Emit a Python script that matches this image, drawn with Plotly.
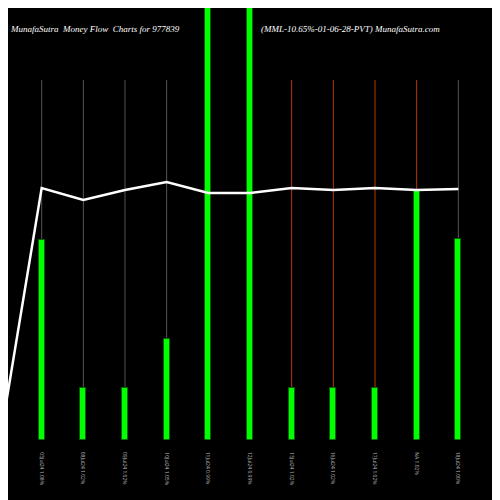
import plotly.graph_objects as go

# chart values
positions = [1, 2, 3, 4, 5, 6, 7, 8, 9, 10, 11]
bar_height = [200, 52, 52, 101, 500, 500, 52, 52, 52, 250, 201]
line_x = [0, 1, 2, 3, 4, 5, 6, 7, 8, 9, 10, 11]
line_y = [0, 252, 240, 250, 258, 247, 247, 252, 250, 252, 250, 251]
grid_colors = ["#555555", "#555555", "#555555", "#555555", "#555555", "#555555",
               "#b33a00", "#b33a00", "#b33a00", "#b33a00", "#555555"]
date_labels = ["05Jul24 1.08%", "08Jul24 1.02%", "09Jul24 1.02%",
               "10Jul24 1.05%", "11Jul24 0.99%", "12Jul24 0.99%",
               "15Jul24 1.02%", "16Jul24 1.02%", "17Jul24 1.02%",
               "NA 1.02%", "18Jul24 1.00%"]

fig = go.Figure()

for x, c in zip(positions, grid_colors):
    fig.add_shape(type="line", x0=x, x1=x, y0=0, y1=360,
                  line=dict(color=c, width=1), layer="below")

fig.add_trace(go.Bar(x=positions, y=bar_height, width=0.14,
                     marker=dict(color="#00ff00", line=dict(color="#006600", width=1))))
fig.add_trace(go.Scatter(x=line_x, y=line_y, mode="lines", cliponaxis=False,
                         line=dict(color="white", width=2.5)))

for x, t in zip(positions, date_labels):
    fig.add_annotation(x=x, y=0, yref="y", text=t, showarrow=False, textangle=90,
                       yanchor="top", yshift=-10, font=dict(size=5, color="#bbbbbb"))

fig.add_annotation(x=0.0, y=1.0, xref="paper", yref="paper", yshift=-14,
                   text="<i>MunafaSutra  Money Flow  Charts for 977839</i>", showarrow=False,
                   xanchor="left", font=dict(family="Liberation Serif", size=9, color="white"))
fig.add_annotation(x=0.51, y=1.0, xref="paper", yref="paper", yshift=-14,
                   text="<i>(MML-10.65%-01-06-28-PVT) MunafaSutra.com</i>", showarrow=False,
                   xanchor="left", font=dict(family="Liberation Serif", size=9, color="white"))

fig.update_layout(width=492, height=492, paper_bgcolor="black", plot_bgcolor="black",
                  margin=dict(l=0, r=0, t=0, b=60), showlegend=False, bargap=0,
                  xaxis=dict(range=[0.192, 12.0], visible=False),
                  yaxis=dict(range=[0, 432], visible=False))
fig.write_html("out.html")
